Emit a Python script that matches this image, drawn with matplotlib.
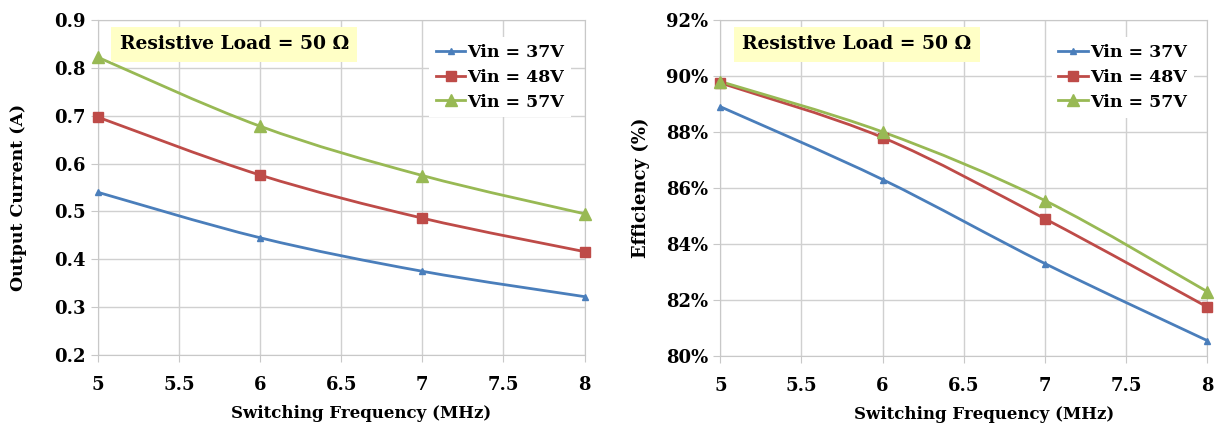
import matplotlib
matplotlib.use("Agg")
import matplotlib.pyplot as plt
from matplotlib.path import Path
from matplotlib.patches import PathPatch
from matplotlib.lines import Line2D
from matplotlib.ticker import PercentFormatter, MultipleLocator, FormatStrFormatter

freq = [5, 6, 7, 8]
labels = ["Vin = 37V", "Vin = 48V", "Vin = 57V"]

current_37 = [0.540, 0.445, 0.375, 0.322]
current_48 = [0.697, 0.576, 0.486, 0.416]
current_57 = [0.822, 0.678, 0.575, 0.495]

eff_37 = [88.9, 86.3, 83.3, 80.55]
eff_48 = [89.75, 87.8, 84.9, 81.75]
eff_57 = [89.8, 88.0, 85.55, 82.3]

colors = ["#4a7ebb", "#be4b48", "#98b954"]
markers = ["^", "s", "^"]
msizes = [4.5, 7.5, 8]

plt.rcParams["font.family"] = ["DejaVu Serif"]
plt.rcParams["font.weight"] = "bold"


def smooth_path(x, y, t=1 / 6):
    # excel style smoothed line: bezier through every point
    verts = [(x[0], y[0])]
    codes = [Path.MOVETO]
    n = len(x)
    for i in range(n - 1):
        x0, y0 = (x[i - 1], y[i - 1]) if i > 0 else (x[i], y[i])
        x3, y3 = (x[i + 2], y[i + 2]) if i + 2 < n else (x[i + 1], y[i + 1])
        c1 = (x[i] + (x[i + 1] - x0) * t, y[i] + (y[i + 1] - y0) * t)
        c2 = (x[i + 1] - (x3 - x[i]) * t, y[i + 1] - (y3 - y[i]) * t)
        verts += [c1, c2, (x[i + 1], y[i + 1])]
        codes += [Path.CURVE4] * 3
    return Path(verts, codes)


def draw_panel(ax, series, ylim, ystep, ylabel, pct=False, ylab_x=-0.145, ylab_y=0.5, ylab_size=13):
    for s, c, m, ms in zip(series, colors, markers, msizes):
        ax.add_patch(PathPatch(smooth_path(freq, s), fill=False, edgecolor=c, lw=2,
                               zorder=3, clip_on=False))
        ax.plot(freq, s, linestyle="none", marker=m, color=c, markersize=ms, zorder=4,
                clip_on=False)
    ax.set_xlim(5, 8)
    ax.set_ylim(*ylim)
    ax.xaxis.set_major_locator(MultipleLocator(0.5))
    ax.xaxis.set_major_formatter(FormatStrFormatter("%g"))
    ax.yaxis.set_major_locator(MultipleLocator(ystep))
    if pct:
        ax.yaxis.set_major_formatter(PercentFormatter(decimals=0))
    ax.grid(True, color="#d0d0d0", lw=1)
    ax.set_axisbelow(True)
    for sp in ax.spines.values():
        sp.set_color("#c8c8c8")
    ax.tick_params(axis="both", labelsize=13, color="#c8c8c8", length=5)
    ax.tick_params(axis="x", pad=10)
    ax.set_xlabel("Switching Frequency (MHz)", fontsize=12, fontweight="bold")
    ax.xaxis.set_label_coords(0.541, -0.148)
    ax.set_ylabel(ylabel, fontsize=ylab_size, fontweight="bold")
    ax.yaxis.set_label_coords(ylab_x, ylab_y)
    ax.text(0.045, 0.927, "Resistive Load = 50 Ω", transform=ax.transAxes, fontsize=13.5,
            fontweight="bold", va="center", ha="left",
            bbox=dict(boxstyle="square,pad=0.45", fc="#ffffc6", ec="none"), zorder=5)
    handles = [Line2D([], [], color=c, marker=m, markersize=ms, lw=2)
               for c, m, ms in zip(colors, markers, msizes)]
    leg = ax.legend(handles, labels, loc="upper right", bbox_to_anchor=(0.99, 0.975),
                    frameon=True, fancybox=False, edgecolor="none", facecolor="white",
                    framealpha=1, fontsize=12.5, handlelength=1.7, handletextpad=0.1,
                    borderpad=0.4, labelspacing=0.45)
    leg.set_zorder(6)


fig = plt.figure(figsize=(12.23, 4.33), dpi=100)
ax1 = fig.add_axes([0.080, 0.180, 0.398, 0.774])
ax2 = fig.add_axes([0.589, 0.178, 0.398, 0.776])

draw_panel(ax1, [current_37, current_48, current_57], (0.2, 0.9), 0.1, "Output Current (A)",
           ylab_x=-0.146, ylab_y=0.47, ylab_size=12.5)
draw_panel(ax2, [eff_37, eff_48, eff_57], (80, 92), 2, "Efficiency (%)", pct=True,
           ylab_x=-0.145, ylab_y=0.5)

fig.savefig("out.png", dpi=100)
